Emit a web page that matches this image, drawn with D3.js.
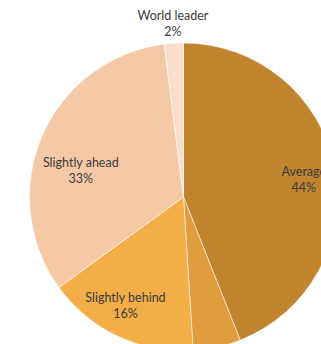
<!DOCTYPE html>
<html>
<head>
<meta charset="utf-8">
<script src="https://cdn.jsdelivr.net/npm/d3@7"></script>
<style>
  html, body { margin: 0; padding: 0; background: #fff; overflow: hidden; }
  svg { display: block; }
</style>
</head>
<body>
<svg id="chart" width="321" height="344"></svg>
<script>
// Share of respondents by self-assessed position (clockwise from 12 o'clock)
const categories = ["Average", "Behind", "Slightly behind", "Slightly ahead", "World leader"];
const values = [44, 5, 16, 33, 2];
const labelled = [true, false, true, true, true];

// Slice fills
const colors = ["#C1842F", "#E19C3D", "#F3AE48", "#F6C9A6", "#FADDCB"];

// Label placement: radius from centre and angular nudge (degrees) from slice mid-angle
const labelRadius = [121, 170, 127, 105, 169];
const labelNudge = [4.6, 0, 2, -11.4, 0];

const width = 321, height = 344;
const cx = 183.5, cy = 197, radius = 154;

const svg = d3.select("#chart");
const g = svg.append("g").attr("transform", `translate(${cx},${cy})`);

const pie = d3.pie().sort(null).value(d => d.value);
const data = categories.map((c, i) => ({ name: c, value: values[i], i }));
const arcs = pie(data);

const arc = d3.arc().innerRadius(0).outerRadius(radius);

g.selectAll("path.slice")
  .data(arcs)
  .join("path")
  .attr("class", "slice")
  .attr("d", arc)
  .attr("fill", d => colors[d.data.i])
  .attr("stroke", "#fff")
  .attr("stroke-opacity", 0.55)
  .attr("stroke-width", 1);

const total = d3.sum(values);
const fmt = v => Math.round(v / total * 100) + "%";

const labels = g.selectAll("g.label")
  .data(arcs.filter(d => labelled[d.data.i]))
  .join("g")
  .attr("class", "label")
  .attr("transform", d => {
    const mid = (d.startAngle + d.endAngle) / 2 + labelNudge[d.data.i] * Math.PI / 180;
    const r = labelRadius[d.data.i];
    return `translate(${r * Math.sin(mid)},${-r * Math.cos(mid)})`;
  });

const font = "Lato, 'Open Sans', sans-serif";

labels.append("text")
  .attr("text-anchor", "middle")
  .attr("y", -8)
  .attr("font-family", font)
  .attr("font-size", 12.5)
  .attr("fill", "#3b3b3b")
  .text(d => d.data.name);

labels.append("text")
  .attr("text-anchor", "middle")
  .attr("y", 8)
  .attr("font-family", font)
  .attr("font-size", 12.5)
  .attr("fill", "#3b3b3b")
  .text(d => fmt(d.data.value));
</script>
</body>
</html>
